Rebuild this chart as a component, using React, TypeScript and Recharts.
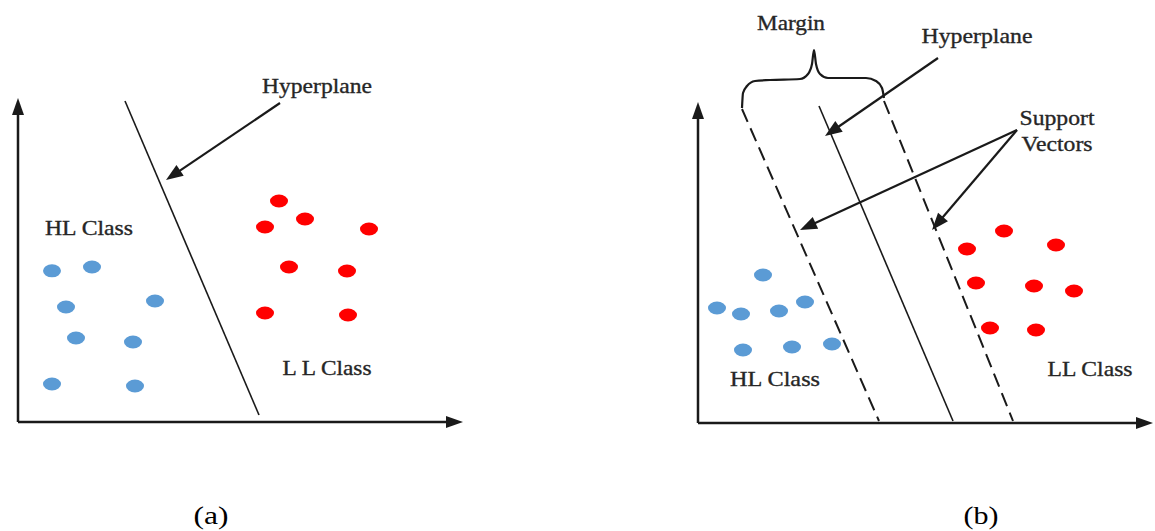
import React from "react";
import {
  ComposedChart,
  Scatter,
  Line,
  XAxis,
  YAxis,
  ReferenceLine,
  ReferenceDot,
} from "recharts";

// panel (a): the two classes
const hlClassA = [
  { x: 0.85, y: 3.78 },
  { x: 1.85, y: 3.875 },
  { x: 1.2, y: 2.875 },
  { x: 3.425, y: 3.025 },
  { x: 1.45, y: 2.1 },
  { x: 2.875, y: 2.0 },
  { x: 0.85, y: 0.95 },
  { x: 2.925, y: 0.9 },
];
const llClassA = [
  { x: 6.525, y: 5.525 },
  { x: 7.175, y: 5.075 },
  { x: 6.175, y: 4.875 },
  { x: 8.775, y: 4.825 },
  { x: 6.775, y: 3.875 },
  { x: 8.225, y: 3.775 },
  { x: 6.175, y: 2.725 },
  { x: 8.25, y: 2.675 },
];

// panel (b): the two classes
const hlClassB = [
  { x: 1.625, y: 3.7 },
  { x: 0.475, y: 2.875 },
  { x: 1.075, y: 2.725 },
  { x: 2.025, y: 2.8 },
  { x: 2.675, y: 3.025 },
  { x: 1.125, y: 1.825 },
  { x: 2.35, y: 1.9 },
  { x: 3.35, y: 1.975 },
];
const llClassB = [
  { x: 7.65, y: 4.8 },
  { x: 8.95, y: 4.45 },
  { x: 6.725, y: 4.35 },
  { x: 6.95, y: 3.5 },
  { x: 8.4, y: 3.425 },
  { x: 9.4, y: 3.3 },
  { x: 7.3, y: 2.375 },
  { x: 8.45, y: 2.325 },
];

// separating lines (start, end)
const hyperplaneA = [{ x: 2.675, y: 8.025 }, { x: 6.025, y: 0.175 }];
const marginLowB = [{ x: 1.1, y: 7.85 }, { x: 4.525, y: 0.05 }];
const hyperplaneB = [{ x: 3.025, y: 7.925 }, { x: 6.375, y: 0.05 }];
const marginHighB = [{ x: 4.65, y: 8.05 }, { x: 7.875, y: 0.05 }];

// brace over the margin
const braceB = [
  { x: 1.1, y: 7.875 },
  { x: 1.125, y: 8.25 },
  { x: 1.225, y: 8.425 },
  { x: 1.425, y: 8.55 },
  { x: 1.8, y: 8.575 },
  { x: 2.55, y: 8.6 },
  { x: 2.75, y: 8.725 },
  { x: 2.85, y: 8.975 },
  { x: 2.9, y: 9.325 },
  { x: 2.95, y: 8.975 },
  { x: 3.05, y: 8.725 },
  { x: 3.25, y: 8.625 },
  { x: 4.2, y: 8.625 },
  { x: 4.45, y: 8.55 },
  { x: 4.6, y: 8.375 },
  { x: 4.65, y: 8.125 },
];

// callout arrows (from, to)
const arrowsA = [[{ x: 6.55, y: 7.975 }, { x: 3.7, y: 6.05 }]];
const arrowsB = [
  [{ x: 6.0, y: 9.125 }, { x: 3.175, y: 7.175 }],
  [{ x: 7.975, y: 7.325 }, { x: 2.55, y: 4.825 }],
  [{ x: 7.975, y: 7.325 }, { x: 5.85, y: 4.825 }],
];

const axisEndA = { x: 11.125, y: 8.1 };
const axisEndB = { x: 11.375, y: 8.025 };

const labelsA = ["Hyperplane", "HL Class", "L L Class", "(a)"];
const labelPosA = [
  { x: 7.475, y: 8.425 },
  { x: 1.775, y: 4.875 },
  { x: 7.725, y: 1.375 },
  { x: 4.825, y: -2.33 },
];
const labelWidthA = [110, 88, 89, 35];
const labelsB = ["Margin", "Hyperplane", "Support", "Vectors", "HL Class", "LL Class", "(b)"];
const labelPosB = [
  { x: 2.325, y: 10.025 },
  { x: 6.975, y: 9.7 },
  { x: 8.975, y: 7.65 },
  { x: 8.975, y: 7.0 },
  { x: 1.925, y: 1.125 },
  { x: 9.8, y: 1.375 },
  { x: 7.075, y: -2.305 },
];
const labelWidthB = [68, 111, 75, 71, 90, 85, 35];

const SERIF = "'Liberation Serif', 'Times New Roman', serif";
const INK = "#1a1a1a";

const Ellipse = (color: string) => (p: any) => (
  <ellipse cx={p.cx} cy={p.cy} rx={9} ry={6.5} fill={color} />
);

const Arrow = (head: number, half: number) => (p: any) => {
  const { x1, y1, x2, y2 } = p;
  const dx = x2 - x1;
  const dy = y2 - y1;
  const len = Math.sqrt(dx * dx + dy * dy) || 1;
  const ux = dx / len;
  const uy = dy / len;
  const bx = x2 - ux * head;
  const by = y2 - uy * head;
  const pts = `${x2},${y2} ${bx - uy * half},${by + ux * half} ${bx + uy * half},${by - ux * half}`;
  return (
    <g>
      <line x1={x1} y1={y1} x2={bx + ux * 2} y2={by + uy * 2} stroke={INK} strokeWidth={p.strokeWidth} />
      <polygon points={pts} fill={INK} />
    </g>
  );
};

const TextMark = (t: string, w: number) => (p: any) => {
  const caption = t.startsWith("(");
  return (
    <text
      x={p.cx}
      y={p.cy}
      textAnchor="middle"
      dominantBaseline="central"
      fontFamily={SERIF}
      fontSize={caption ? 26 : 22}
      fill={caption ? "#000" : "#262626"}
      stroke={caption ? "none" : "#262626"}
      strokeWidth={0.35}
      textLength={w}
      lengthAdjust="spacingAndGlyphs"
    >
      {t}
    </text>
  );
};

const W = 480;
const H = 531;
const X_DOMAIN = [-0.45, 11.55];
const Y_DOMAIN = [-2.725, 10.55];

function Frame({ children }: { children: React.ReactNode }) {
  return (
    <ComposedChart width={W} height={H} margin={{ top: 0, right: 0, bottom: 0, left: 0 }}>
      <XAxis type="number" dataKey="x" domain={X_DOMAIN} allowDataOverflow hide />
      <YAxis type="number" dataKey="y" domain={Y_DOMAIN} allowDataOverflow hide />
      {children}
    </ComposedChart>
  );
}

function PanelA() {
  return (
    <Frame>
      <ReferenceLine segment={[{ x: 0, y: 0 }, { x: 0, y: axisEndA.y }]} strokeWidth={2.5} shape={Arrow(17, 6)} />
      <ReferenceLine segment={[{ x: 0, y: 0 }, { x: axisEndA.x, y: 0 }]} strokeWidth={2.5} shape={Arrow(17, 6)} />
      <ReferenceLine segment={hyperplaneA} stroke={INK} strokeWidth={1.6} />
      {arrowsA.map((s, i) => (
        <ReferenceLine key={i} segment={s} strokeWidth={2.2} shape={Arrow(17, 6.5)} />
      ))}
      <Scatter data={hlClassA} shape={Ellipse("#5b9bd5")} isAnimationActive={false} />
      <Scatter data={llClassA} shape={Ellipse("#ff0000")} isAnimationActive={false} />
      {labelsA.map((t, i) => (
        <ReferenceDot key={t} x={labelPosA[i].x} y={labelPosA[i].y} r={0} shape={TextMark(t, labelWidthA[i])} />
      ))}
    </Frame>
  );
}

function PanelB() {
  return (
    <Frame>
      <ReferenceLine segment={[{ x: 0, y: 0 }, { x: 0, y: axisEndB.y }]} strokeWidth={2.5} shape={Arrow(17, 6)} />
      <ReferenceLine segment={[{ x: 0, y: 0 }, { x: axisEndB.x, y: 0 }]} strokeWidth={2.5} shape={Arrow(17, 6)} />
      <ReferenceLine segment={marginLowB} stroke={INK} strokeWidth={2} strokeDasharray="14 7" />
      <ReferenceLine segment={hyperplaneB} stroke={INK} strokeWidth={1.6} />
      <ReferenceLine segment={marginHighB} stroke={INK} strokeWidth={2} strokeDasharray="14 7" />
      <Line
        data={braceB}
        dataKey="y"
        type="monotoneX"
        stroke={INK}
        strokeWidth={2.2}
        dot={false}
        isAnimationActive={false}
      />
      {arrowsB.map((s, i) => (
        <ReferenceLine key={i} segment={s} strokeWidth={2.2} shape={Arrow(17, 6.5)} />
      ))}
      <Scatter data={hlClassB} shape={Ellipse("#5b9bd5")} isAnimationActive={false} />
      <Scatter data={llClassB} shape={Ellipse("#ff0000")} isAnimationActive={false} />
      {labelsB.map((t, i) => (
        <ReferenceDot key={t} x={labelPosB[i].x} y={labelPosB[i].y} r={0} shape={TextMark(t, labelWidthB[i])} />
      ))}
    </Frame>
  );
}

export default function App() {
  return (
    <div
      style={{
        position: "absolute",
        left: 0,
        top: 0,
        width: 1155,
        height: 531,
        overflow: "hidden",
        background: "#fff",
      }}
    >
      <div style={{ position: "absolute", left: 0, top: 0 }}>
        <PanelA />
      </div>
      <div style={{ position: "absolute", left: 680, top: 1 }}>
        <PanelB />
      </div>
    </div>
  );
}
